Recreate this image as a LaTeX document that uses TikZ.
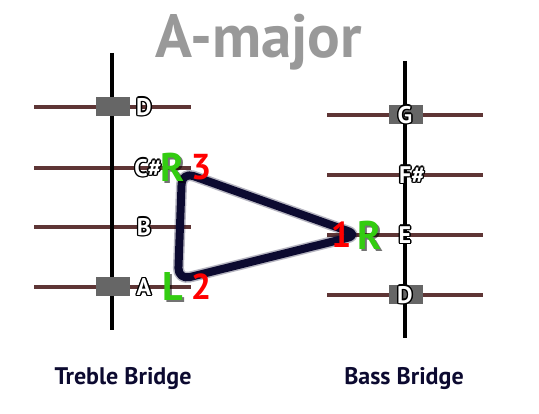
\documentclass[tikz,border=0pt]{standalone}
\usepackage{fontspec}
\setmainfont{PT Sans}
\definecolor{stringbrown}{RGB}{94,53,53}
\definecolor{blockgray}{RGB}{102,102,102}
\definecolor{navy}{RGB}{12,10,48}
\definecolor{fingergreen}{RGB}{51,204,17}
\definecolor{titlegray}{RGB}{153,153,153}
\tikzset{
  stringline/.style={stringbrown,line width=4pt},
  bridgeline/.style={black,line width=4.5pt},
  nutblock/.style={fill=blockgray,draw=none,minimum width=34pt,minimum height=19pt,inner sep=0pt},
  notelbl/.style={font=\bfseries\fontsize{24}{24}\selectfont,inner sep=0pt},
  fingerlbl/.style={font=\bfseries\fontsize{40}{40}\selectfont,inner sep=0pt},
  numlbl/.style={font=\bfseries\fontsize{36}{36}\selectfont,text=red,inner sep=0pt},
  bridgename/.style={font=\bfseries\fontsize{24}{24}\selectfont,text=navy,inner sep=0pt}
}
% white note name with a black rim
\newcommand\notename[3]{%
  \foreach \dx/\dy in {1.4/0,-1.4/0,0/1.4,0/-1.4,1/1,-1/1,1/-1,-1/-1}
    \node[notelbl,text=black] at ([shift={(\dx,\dy)}]#2) {#3};
  \node[notelbl,text=white] (#1) at (#2) {#3};
}
% green finger letter with a shadow
\newcommand\fingername[3]{%
  \node[fingerlbl,text=black,opacity=0.55] at ([shift={(2,2)}]#2) {#3};
  \node[fingerlbl,text=fingergreen] (#1) at (#2) {#3};
}
\begin{document}
\begin{tikzpicture}[x=1pt,y=-1pt]
  \useasboundingbox (0,0) rectangle (539,414);
  % title
  \node[font=\bfseries\fontsize{61}{61}\selectfont,text=titlegray,anchor=base] (title) at (259,58) {A-major};
  % treble strings
  \foreach \y in {107,168,227,287}
    \draw[stringline] (34,\y) -- (191,\y);
  % bass strings
  \foreach \y in {115,175,235,295}
    \draw[stringline] (327,\y) -- (483,\y);
  % bridges
  \draw[bridgeline] (112,53) -- (112,330);
  \draw[bridgeline] (405,61) -- (405,338);
  \node[nutblock] (tD) at (113,107) {};
  \node[nutblock] (tA) at (113,287) {};
  \node[nutblock] (bG) at (406,115) {};
  \node[nutblock] (bD) at (406,295) {};
  % triangle
  \coordinate (t1) at (359,235);
  \coordinate (t2) at (178,280);
  \coordinate (t3) at (182,172);
  \draw[navy,line width=11pt,opacity=0.3,line join=round,rounded corners=12pt] (t1) -- (t3) -- (t2) -- cycle;
  \draw[navy,line width=8pt,line join=round,rounded corners=12pt] (t1) -- (t3) -- (t2) -- cycle;
  % note names
  \notename{nD}{144,107}{D}
  \notename{nCs}{148,168}{C\#}
  \notename{nB}{144,227}{B}
  \notename{nA}{144,287}{A}
  \notename{nG}{405,115}{G}
  \notename{nFs}{412,175}{F\#}
  \notename{nE}{405,235}{E}
  \notename{nDb}{405,295}{D}
  % fingers
  \fingername{fR1}{173,167}{R}
  \fingername{fL}{173,287}{L}
  \fingername{fR2}{370,235}{R}
  \node[numlbl] (n3) at (201,167) {3};
  \node[numlbl] (n2) at (201,287) {2};
  \node[numlbl] (n1) at (341,235) {1};
  % captions
  \node[bridgename] (treble) at (123,379) {Treble Bridge};
  \node[bridgename] (bass) at (404,379) {Bass Bridge};
\end{tikzpicture}
\end{document}
